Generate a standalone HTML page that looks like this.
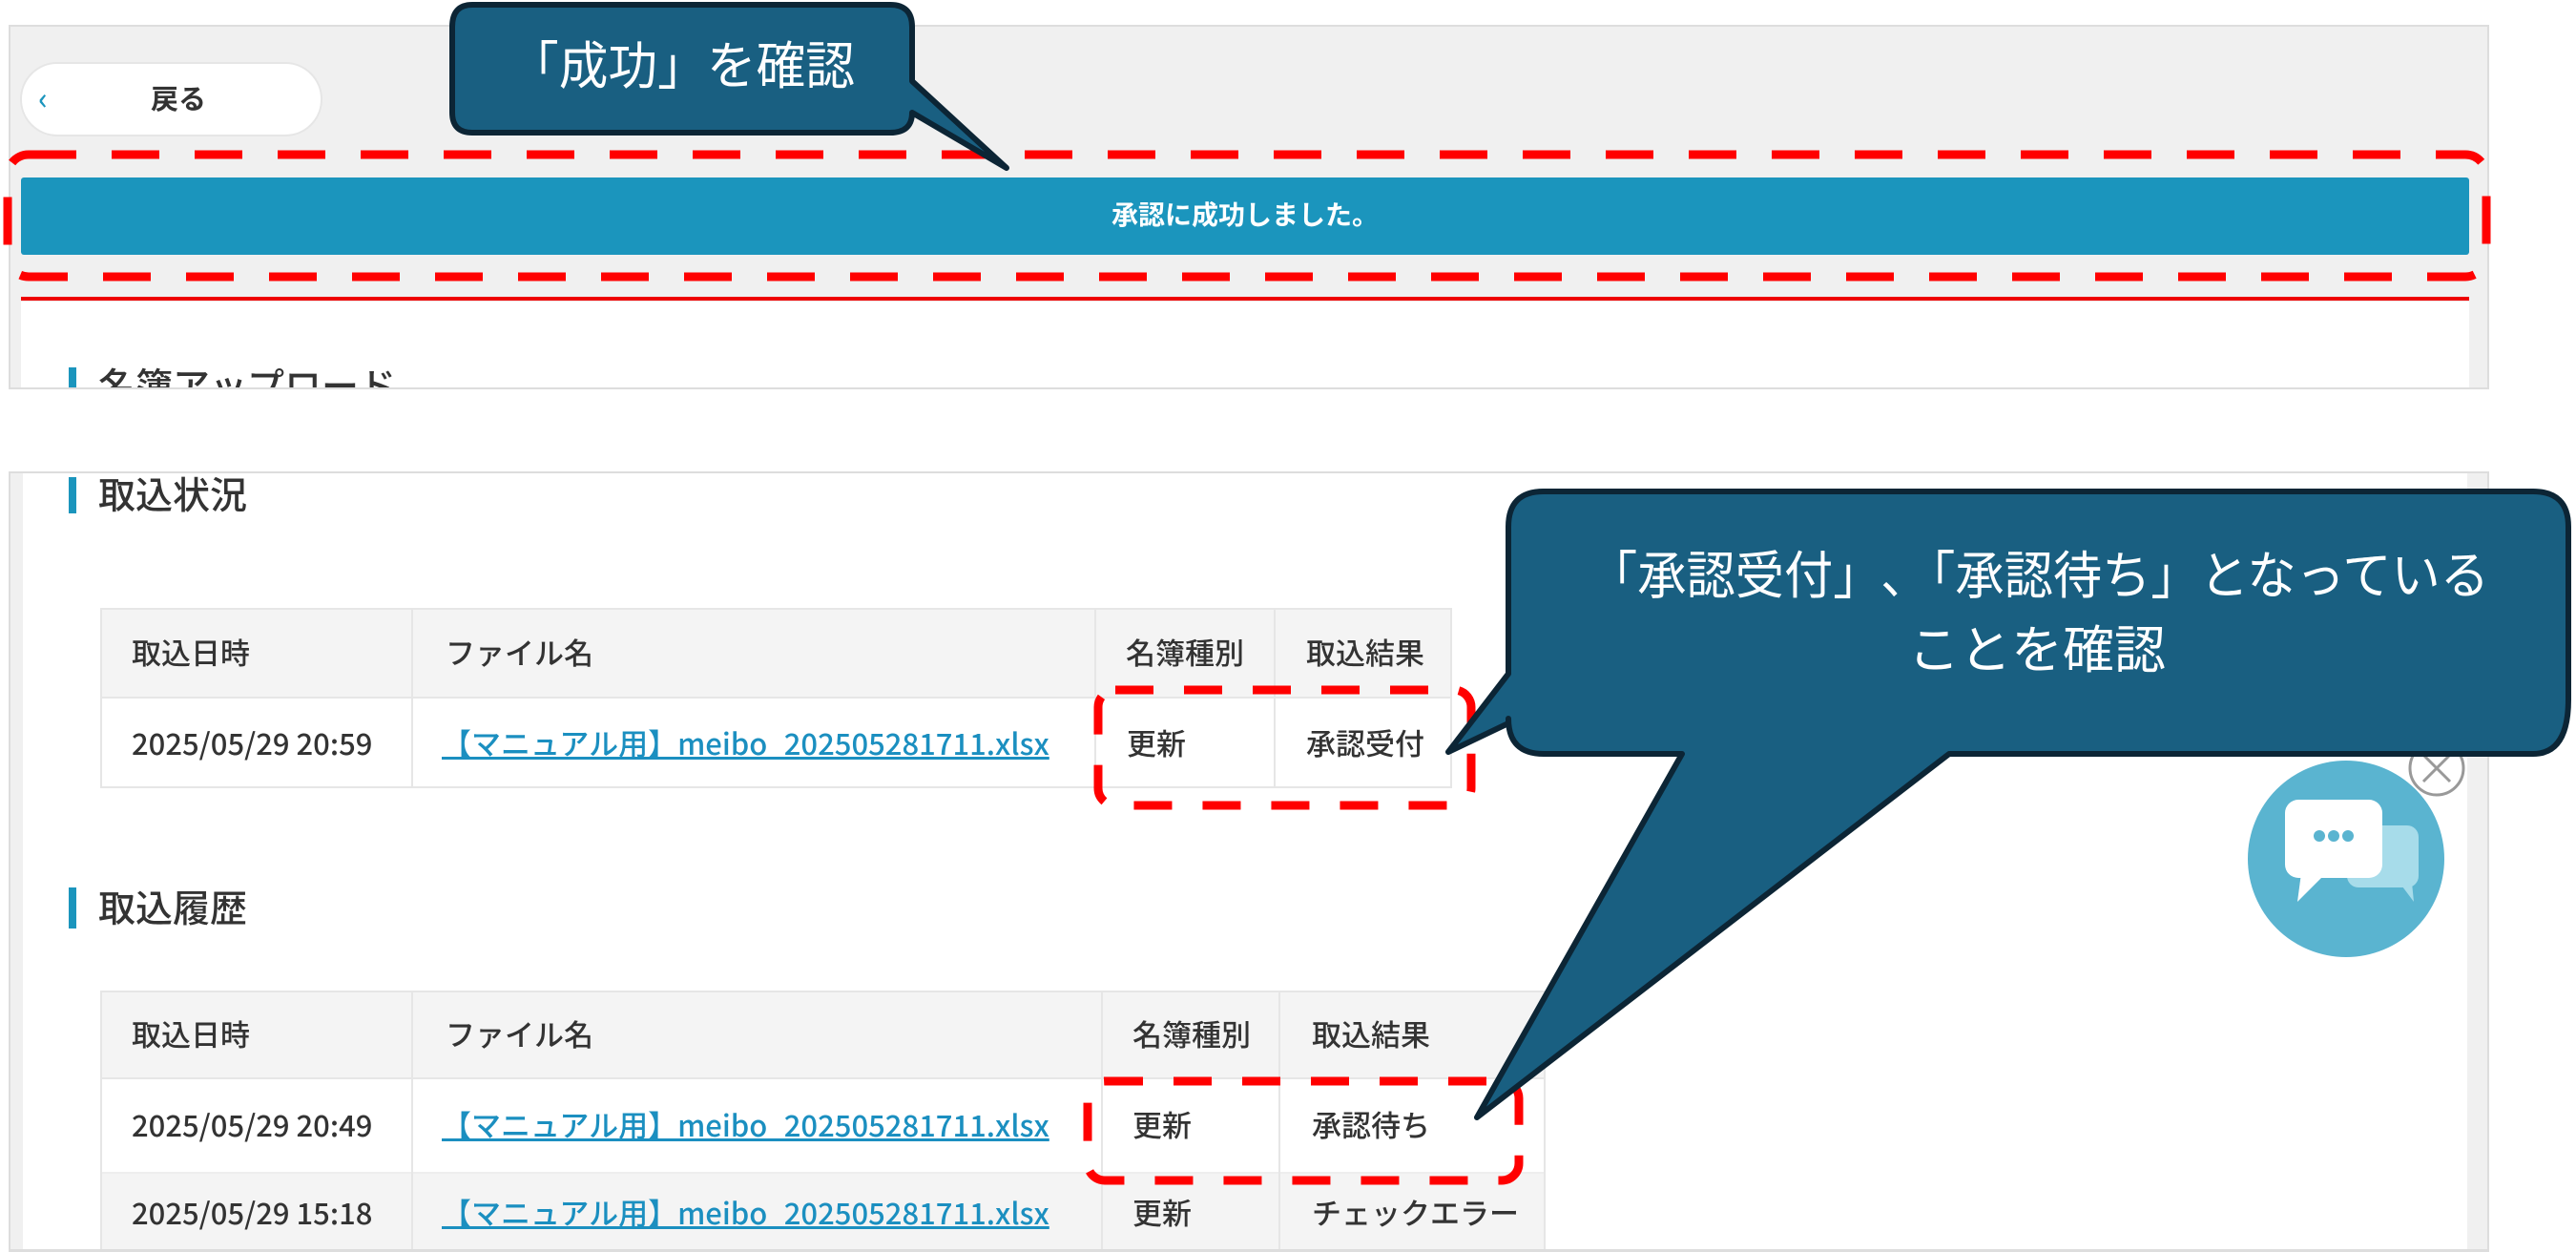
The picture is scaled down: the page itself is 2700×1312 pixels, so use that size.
<!DOCTYPE html>
<html><head><meta charset="utf-8">
<style>
*{margin:0;padding:0;box-sizing:border-box}
html,body{width:2700px;height:1312px;overflow:hidden}
body{background:#fff;position:relative;font-family:"Noto Sans CJK JP","Liberation Sans",sans-serif;color:#333}
.a{position:absolute}
.t{position:absolute;font-size:31px;white-space:nowrap;line-height:1;font-weight:500}
.lnk{color:#1b8fc0;text-decoration:underline}
.h{position:absolute;font-size:39px;line-height:1;color:#333;font-weight:500}
.bar{position:absolute;width:8px;background:#1b95bd}
</style></head><body>
<!-- top panel -->
<div class="a" style="left:9px;top:26px;width:2600px;height:382px;background:#f0f0f0;border:2px solid #ddd"></div>
<div class="a" style="left:22px;top:316px;width:2566px;height:90px;background:#fff"></div>
<div class="a" style="left:21px;top:65px;width:317px;height:78px;background:#fff;border:2px solid #e6e6e6;border-radius:40px"></div>
<div class="t" style="left:40px;top:86px;color:#1b95bd;font-size:32px">&lsaquo;</div>
<div class="t" style="left:158px;top:88px;font-weight:bold;font-size:29px">戻る</div>
<div class="a" style="left:22px;top:186px;width:2566px;height:81px;background:#1b95bd;border-radius:3px"></div>
<div class="t" style="left:0;width:2610px;text-align:center;top:210px;color:#fff;font-weight:bold;font-size:28px">承認に成功しました。</div>
<div class="a" style="left:22px;top:311px;width:2566px;height:4px;background:#e00"></div>
<div class="a" style="left:22px;top:380px;width:1000px;height:26px;overflow:hidden">
 <div class="bar" style="left:50px;top:5px;height:30px"></div>
 <div class="h" style="left:81px;top:4px">名簿アップロード</div>
</div>

<!-- bottom panel -->
<div class="a" style="left:9px;top:494px;width:2600px;height:830px;background:#f0f0f0;border:2px solid #ddd"></div>
<div class="a" style="left:24px;top:496px;width:2562px;height:816px;background:#fff"></div>
<div class="bar" style="left:72px;top:500px;height:38px"></div>
<div class="h" style="left:103px;top:498px">取込状況</div>

<!-- table1 -->
<div class="a" style="left:105px;top:637px;width:1417px;height:189px;border:2px solid #e6e6e6;background:#fff"></div>
<div class="a" style="left:107px;top:639px;width:1413px;height:93px;background:#f4f4f4;border-bottom:2px solid #e6e6e6"></div>
<div class="a" style="left:431px;top:637px;width:2px;height:189px;background:#e6e6e6"></div>
<div class="a" style="left:1147px;top:637px;width:2px;height:189px;background:#e6e6e6"></div>
<div class="a" style="left:1335px;top:637px;width:2px;height:189px;background:#e6e6e6"></div>
<div class="t" style="left:138px;top:667px">取込日時</div>
<div class="t" style="left:467px;top:667px">ファイル名</div>
<div class="t" style="left:1180px;top:667px">名簿種別</div>
<div class="t" style="left:1369px;top:667px">取込結果</div>
<div class="t" style="left:138px;top:762px">2025/05/29 20:59</div>
<div class="t lnk" style="left:463px;top:762px">【マニュアル用】meibo_202505281711.xlsx</div>
<div class="t" style="left:1181px;top:762px">更新</div>
<div class="t" style="left:1369px;top:762px">承認受付</div>

<div class="bar" style="left:72px;top:930px;height:43px"></div>
<div class="h" style="left:103px;top:931px">取込履歴</div>

<!-- table2 -->
<div class="a" style="left:105px;top:1038px;width:1515px;height:274px;border:2px solid #e6e6e6;border-bottom:none;background:#fff"></div>
<div class="a" style="left:107px;top:1040px;width:1511px;height:91px;background:#f4f4f4;border-bottom:2px solid #e6e6e6"></div>
<div class="a" style="left:107px;top:1228px;width:1511px;height:84px;background:#f4f4f4;border-top:2px solid #eee"></div>
<div class="a" style="left:431px;top:1038px;width:2px;height:274px;background:#e6e6e6"></div>
<div class="a" style="left:1154px;top:1038px;width:2px;height:274px;background:#e6e6e6"></div>
<div class="a" style="left:1340px;top:1038px;width:2px;height:274px;background:#e6e6e6"></div>
<div class="t" style="left:138px;top:1067px">取込日時</div>
<div class="t" style="left:467px;top:1067px">ファイル名</div>
<div class="t" style="left:1187px;top:1067px">名簿種別</div>
<div class="t" style="left:1375px;top:1067px">取込結果</div>
<div class="t" style="left:138px;top:1162px">2025/05/29 20:49</div>
<div class="t lnk" style="left:463px;top:1162px">【マニュアル用】meibo_202505281711.xlsx</div>
<div class="t" style="left:1187px;top:1162px">更新</div>
<div class="t" style="left:1375px;top:1162px">承認待ち</div>
<div class="t" style="left:138px;top:1254px">2025/05/29 15:18</div>
<div class="t lnk" style="left:463px;top:1254px">【マニュアル用】meibo_202505281711.xlsx</div>
<div class="t" style="left:1187px;top:1254px">更新</div>
<div class="t" style="left:1375px;top:1254px">チェックエラー</div>
<div class="a" style="left:9px;top:1309px;width:2600px;height:3px;background:#ddd"></div>

<svg class="a" style="left:0;top:0" width="2700" height="1312" viewBox="0 0 2700 1312">
 <circle cx="2459" cy="900" r="103" fill="#5ab4d0"/>
 <rect x="2460" y="865" width="75" height="65" rx="12" fill="#a7dcea"/>
 <path d="M2515 925 L2530 945 L2528 925Z" fill="#a7dcea"/>
 <rect x="2395" y="838" width="102" height="82" rx="14" fill="#fff"/>
 <path d="M2412 915 L2408 945 L2435 918Z" fill="#fff"/>
 <circle cx="2431" cy="876" r="6" fill="#5ab4d0"/><circle cx="2446" cy="876" r="6" fill="#5ab4d0"/><circle cx="2461" cy="876" r="6" fill="#5ab4d0"/>
 <circle cx="2554" cy="805" r="28" fill="#fff" stroke="#999" stroke-width="3"/>
 <path d="M2540 791 L2568 819 M2568 791 L2540 819" stroke="#999" stroke-width="3"/>
 <rect x="8" y="162" width="2598" height="128" rx="22" fill="none" stroke="#f00" stroke-width="9" stroke-dasharray="50 37"/>
 <rect x="1151" y="723" width="391" height="121" rx="18" fill="none" stroke="#f00" stroke-width="9" stroke-dasharray="40 32"/>
 <rect x="1140" y="1133" width="452" height="104" rx="18" fill="none" stroke="#f00" stroke-width="9" stroke-dasharray="40 32"/>
 <path d="M495 5 H933 Q956 5 956 28 V85 L1055 176 L956 118 V118 Q956 139 933 139 H495 Q474 139 474 118 V28 Q474 5 495 5Z" fill="#195f81" stroke="#0c2535" stroke-width="6" stroke-linejoin="round"/>
 <text x="534" y="88" fill="#fff" font-size="54" textLength="362" lengthAdjust="spacingAndGlyphs" font-family="Noto Sans CJK JP, Liberation Sans, sans-serif">「成功」を確認</text>
 <path d="M1618 515 H2655 Q2692 515 2692 552 V733 Q2692 790 2655 790 H2043 L1548 1171 L1763 790 H1618 Q1581 790 1581 753 V758 L1518 788 L1581 706 V552 Q1581 515 1618 515Z" fill="#195f81" stroke="#0c2535" stroke-width="6" stroke-linejoin="round"/>
 <text x="1665" y="622" fill="#fff" font-size="54" textLength="944" lengthAdjust="spacingAndGlyphs" font-family="Noto Sans CJK JP, Liberation Sans, sans-serif">「承認受付」､「承認待ち」となっている</text>
 <text x="2135" y="700" fill="#fff" font-size="54" text-anchor="middle" font-family="Noto Sans CJK JP, Liberation Sans, sans-serif">ことを確認</text>
</svg>
</body></html>
